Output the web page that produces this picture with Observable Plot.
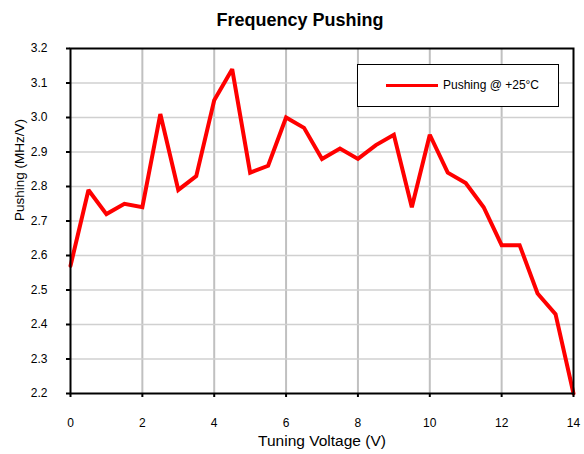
<!DOCTYPE html>
<html>
<head>
<meta charset="utf-8">
<script src="https://cdn.jsdelivr.net/npm/d3@7"></script>
<script src="https://cdn.jsdelivr.net/npm/@observablehq/plot@0.6"></script>
<style>
  html, body { margin: 0; padding: 0; background: #fff; }
  #wrap { position: relative; width: 584px; height: 454px; font-family: "Liberation Sans", Arial, sans-serif; }
  #legend { position: absolute; left: 357px; top: 64px; width: 202px; height: 43px; border: 1px solid #000; background: #fff; box-sizing: border-box; }
  #legend .sw { position: absolute; left: 28px; top: 19px; width: 52px; height: 3px; background: #ff0000; }
  #legend .lb { position: absolute; left: 85px; top: 13px; font-size: 12px; color: #000; white-space: nowrap; }
</style>
</head>
<body>
<div id="wrap"></div>
<script>
const title = "Frequency Pushing";
const xLabel = "Tuning Voltage (V)";
const yLabel = "Pushing (MHz/V)";
const seriesName = "Pushing @ +25°C";
const voltage = [0, 0.5, 1, 1.5, 2, 2.5, 3, 3.5, 4, 4.5, 5, 5.5, 6, 6.5, 7, 7.5, 8, 8.5, 9, 9.5, 10, 10.5, 11, 11.5, 12, 12.5, 13, 13.5, 14];
const pushing = [2.57, 2.79, 2.72, 2.75, 2.74, 3.01, 2.79, 2.83, 3.05, 3.14, 2.84, 2.86, 3.00, 2.97, 2.88, 2.91, 2.88, 2.92, 2.95, 2.74, 2.95, 2.84, 2.81, 2.74, 2.63, 2.63, 2.49, 2.43, 2.20];
const xTicks = [0, 2, 4, 6, 8, 10, 12, 14];
const yTicks = [2.2, 2.3, 2.4, 2.5, 2.6, 2.7, 2.8, 2.9, 3.0, 3.1, 3.2];

const data = voltage.map((v, i) => ({v, p: pushing[i]}));

const chart = Plot.plot({
  width: 584,
  height: 454,
  marginTop: 48,
  marginBottom: 61,
  marginLeft: 70,
  marginRight: 11,
  style: { fontFamily: "Liberation Sans, Arial, sans-serif", fontSize: "12px", color: "#000", background: "#fff" },
  x: { domain: [0, 14], ticks: xTicks },
  y: { domain: [2.2, 3.2], ticks: yTicks, tickFormat: d3.format(".1f") },
  marks: [
    Plot.gridX(xTicks.slice(1, -1), { stroke: "#c0c0c0", strokeOpacity: 1, strokeWidth: 2 }),
    Plot.gridY(yTicks.slice(1, -1), { stroke: "#d0d0d0", strokeOpacity: 1, strokeWidth: 1.5 }),
    Plot.line(data, { x: "v", y: "p", stroke: "#ff0000", strokeWidth: 4, strokeLinejoin: "miter", strokeMiterlimit: 2 }),
    Plot.frame({ stroke: "#000", strokeWidth: 2 }),
    Plot.axisX({ ticks: xTicks, tickSize: 4, tickPadding: 21, strokeWidth: 2, label: null, fontSize: 12 }),
    Plot.axisY({ ticks: yTicks, tickSize: 4, tickPadding: 19, strokeWidth: 2, tickFormat: d3.format(".1f"), label: null, fontSize: 12 }),
    Plot.text([xLabel], { frameAnchor: "bottom", dy: 52, fontSize: 15.5, fill: "#000" }),
    Plot.text([yLabel], { frameAnchor: "left", dx: -51, rotate: -90, fontSize: 13.5, fill: "#000" }),
    Plot.text([title], { frameAnchor: "top", dx: -22, dy: -35, fontSize: 18, fontWeight: "bold", fill: "#000" })
  ]
});

const wrap = document.getElementById("wrap");
wrap.appendChild(chart);
const lg = document.createElement("div");
lg.id = "legend";
lg.innerHTML = '<div class="sw"></div><div class="lb"></div>';
lg.querySelector(".lb").textContent = seriesName;
wrap.appendChild(lg);
</script>
</body>
</html>
